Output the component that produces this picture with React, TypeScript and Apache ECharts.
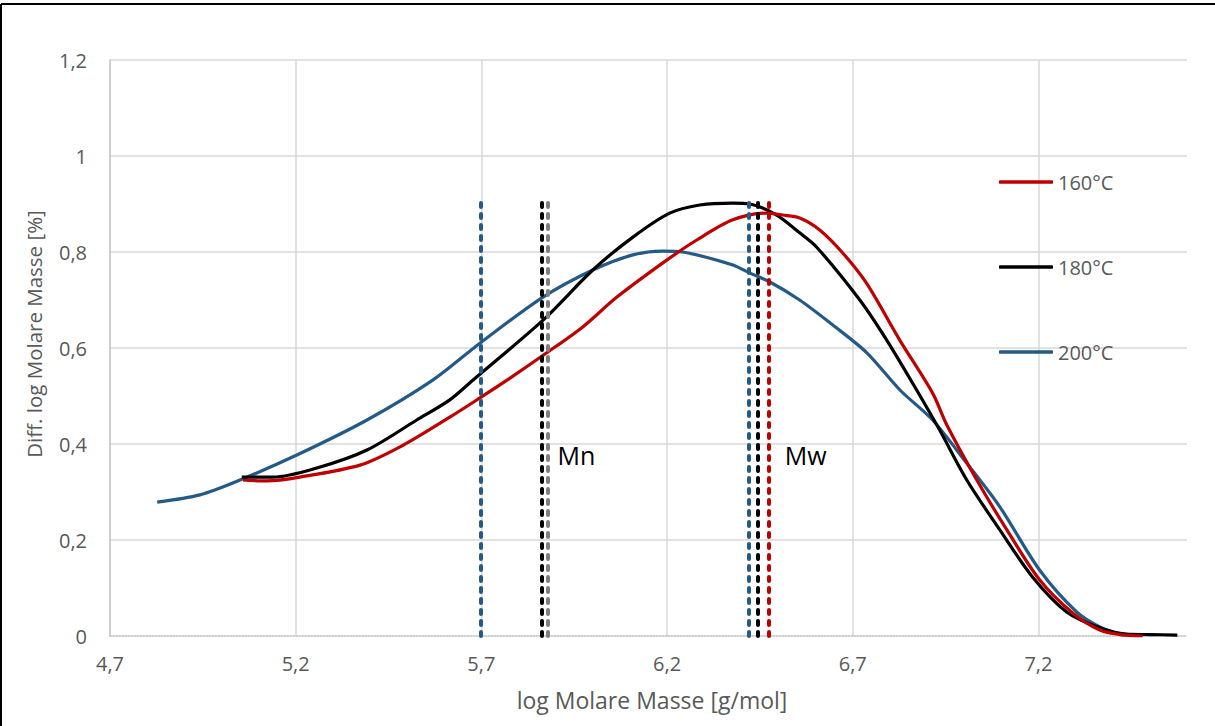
import React, { useEffect, useRef } from "react";
import * as echarts from "echarts";

const seriesNames = ["160°C", "180°C", "200°C"];
const seriesColors = ["#C00000", "#000000", "#245A88"];

const x160 = [5.058, 5.122, 5.211, 5.373, 5.481, 5.615, 5.696, 5.769, 5.876, 5.973, 6.065, 6.199, 6.28, 6.377, 6.468, 6.511, 6.557, 6.611, 6.673, 6.737, 6.826, 6.915, 6.953, 7.034, 7.115, 7.203, 7.292, 7.365, 7.42, 7.481];
const y160 = [0.325, 0.323, 0.331, 0.356, 0.394, 0.456, 0.496, 0.533, 0.59, 0.644, 0.706, 0.783, 0.825, 0.867, 0.881, 0.877, 0.871, 0.846, 0.798, 0.735, 0.617, 0.506, 0.44, 0.325, 0.221, 0.117, 0.048, 0.0125, 0.003, 0.0];

const x180 = [5.055, 5.139, 5.257, 5.392, 5.526, 5.615, 5.677, 5.866, 6.0, 6.108, 6.207, 6.288, 6.377, 6.423, 6.495, 6.557, 6.603, 6.719, 6.791, 6.872, 6.934, 7.007, 7.096, 7.184, 7.276, 7.365, 7.437, 7.5, 7.574];
const y180 = [0.331, 0.331, 0.35, 0.3875, 0.45, 0.492, 0.533, 0.658, 0.7625, 0.831, 0.881, 0.898, 0.902, 0.9, 0.877, 0.84, 0.81, 0.7, 0.617, 0.5125, 0.429, 0.325, 0.221, 0.123, 0.05, 0.017, 0.004, 0.003, 0.002];

const x200 = [4.827, 4.942, 5.05, 5.203, 5.392, 5.569, 5.696, 5.866, 6.0, 6.108, 6.189, 6.242, 6.377, 6.423, 6.477, 6.557, 6.646, 6.738, 6.827, 6.915, 7.007, 7.096, 7.203, 7.303, 7.365, 7.427];
const y200 = [0.279, 0.294, 0.325, 0.377, 0.45, 0.533, 0.61, 0.706, 0.7625, 0.794, 0.802, 0.8, 0.773, 0.756, 0.7375, 0.7, 0.648, 0.59, 0.5125, 0.45, 0.36, 0.269, 0.1375, 0.05, 0.019, 0.002];

// Mn / Mw marker positions (log M) and line colours
const mnValues = [5.698, 5.862, 5.878];
const mnColors = ["#245A88", "#000000", "#808080"];
const mwValues = [6.42, 6.443, 6.473];
const mwColors = ["#245A88", "#000000", "#C00000"];
const markerTop = 0.905;
const mnLabelPos = [5.905, 0.377];
const mwLabelPos = [6.517, 0.377];

const xMin = 4.7;
const xMax = 7.6;
const xInterval = 0.5;
const yMin = 0;
const yMax = 1.2;
const yInterval = 0.2;

const FONT = "'Open Sans', sans-serif";
const TXT = "#595959";

function zip(xs: number[], ys: number[]) {
  return xs.map((x, i) => [x, ys[i]]);
}

function fmt(v: number) {
  return String(Math.round(v * 10) / 10).replace(".", ",");
}

export default function App() {
  const ref = useRef<HTMLDivElement>(null);
  useEffect(() => {
    if (!ref.current) return;
    const chart = echarts.init(ref.current, null, { renderer: "svg" });
    const dash = { type: [4, 7], cap: "round", width: 4 };
    const markLines = mnValues
      .map((v, i) => [
        { coord: [v, 0], lineStyle: { color: mnColors[i], ...dash } },
        { coord: [v, markerTop] },
      ])
      .concat(
        mwValues.map((v, i) => [
          { coord: [v, 0], lineStyle: { color: mwColors[i], ...dash } },
          { coord: [v, markerTop] },
        ])
      );
    const datas = [zip(x160, y160), zip(x180, y180), zip(x200, y200)];
    const series: any[] = seriesNames.map((name, i) => ({
      name,
      type: "line",
      data: datas[i],
      symbol: "none",
      smooth: 0.3,
      lineStyle: { color: seriesColors[i], width: 3.2 },
      itemStyle: { color: seriesColors[i] },
      z: 3 - i + 2,
    }));
    series[0].markLine = {
      silent: true,
      symbol: ["none", "none"],
      label: { show: false },
      data: markLines,
      z: 10,
    };
    series[0].markPoint = {
      silent: true,
      symbol: "circle",
      symbolSize: 0,
      data: [
        { coord: mnLabelPos, value: "Mn" },
        { coord: mwLabelPos, value: "Mw" },
      ],
      label: {
        show: true,
        position: "right",
        distance: 0,
        formatter: (p: any) => p.value,
        fontSize: 25,
        fontFamily: FONT,
        color: "#000000",
      },
    };
    const legendCenters = [181, 266, 351];
    const legends = seriesNames.map((name, i) => ({
      data: [name],
      orient: "vertical",
      left: 999,
      top: legendCenters[i] - 11,
      padding: 0,
      height: 24,
      icon: "roundRect",
      itemWidth: 54,
      itemHeight: 3.5,
      selectedMode: false,
      textStyle: { fontSize: 20, color: TXT, fontFamily: FONT, lineHeight: 24 },
    }));
    chart.setOption({
      animation: false,
      grid: { left: 110, top: 60, width: 1077, height: 576, containLabel: false },
      legend: legends,
      xAxis: {
        type: "value",
        min: xMin,
        max: xMax,
        interval: xInterval,
        axisLine: { show: true, onZero: false, lineStyle: { color: "#bfbfbf", type: "dotted", width: 1.5 } },
        axisTick: { show: false },
        axisLabel: { formatter: fmt, showMaxLabel: false, margin: 17, fontSize: 20, color: TXT, fontFamily: FONT },
        splitLine: { show: true, showMinLine: false, showMaxLine: false, lineStyle: { color: "#d9d9d9", width: 1.5 } },
      },
      yAxis: {
        type: "value",
        min: yMin,
        max: yMax,
        interval: yInterval,
        axisLine: { show: true, lineStyle: { color: "#bfbfbf", width: 1.5 } },
        axisTick: { show: false },
        axisLabel: { formatter: fmt, margin: 23, fontSize: 20, color: TXT, fontFamily: FONT },
        splitLine: { show: true, showMinLine: false, lineStyle: { color: "#d9d9d9", width: 1.5 } },
      },
      graphic: [
        { type: "line", shape: { x1: 1, y1: 4, x2: 1215, y2: 4 }, style: { stroke: "#000", lineWidth: 2 } },
        { type: "line", shape: { x1: 1, y1: 4, x2: 1, y2: 726 }, style: { stroke: "#000", lineWidth: 2 } },
        {
          type: "text",
          x: 652,
          y: 700,
          style: {
            text: "log Molare Masse [g/mol]",
            fontSize: 23,
            fontFamily: FONT,
            fill: TXT,
            textAlign: "center",
            textVerticalAlign: "middle",
          },
        },
        {
          type: "text",
          x: 34,
          y: 334,
          rotation: Math.PI / 2,
          style: {
            text: "Diff. log Molare Masse [%]",
            fontSize: 20.5,
            fontFamily: FONT,
            fill: TXT,
            textAlign: "center",
            textVerticalAlign: "middle",
          },
        },
      ],
      series,
    });
    return () => chart.dispose();
  }, []);
  return (
    <div
      ref={ref}
      style={{ position: "absolute", left: 0, top: 0, width: 1215, height: 726, background: "#fff" }}
    />
  );
}
